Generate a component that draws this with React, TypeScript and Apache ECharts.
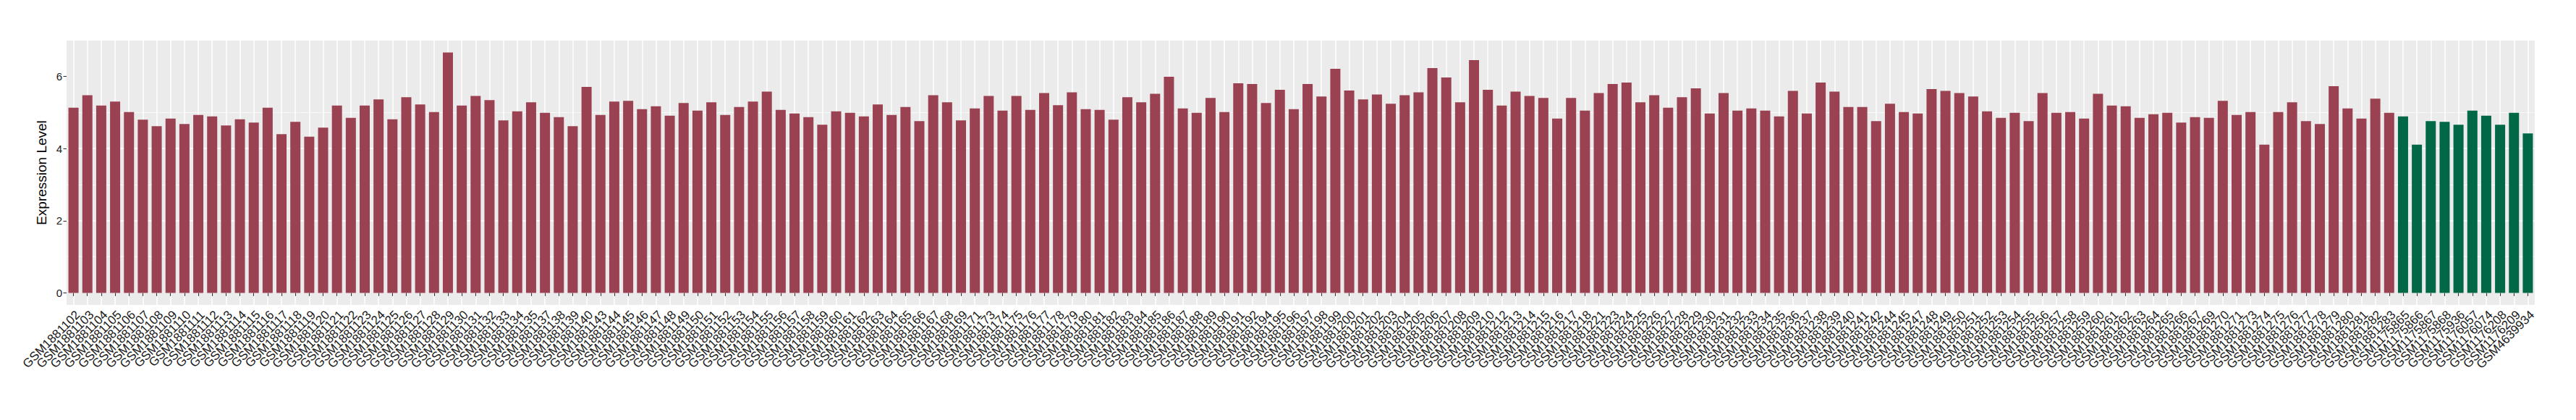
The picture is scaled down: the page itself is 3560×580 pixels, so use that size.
import React, { useEffect, useRef } from "react";
import * as echarts from "echarts";

const redSamples = [
  "GSM1881102","GSM1881103","GSM1881104","GSM1881105","GSM1881106","GSM1881107","GSM1881108","GSM1881109","GSM1881110","GSM1881111",
  "GSM1881112","GSM1881113","GSM1881114","GSM1881115","GSM1881116","GSM1881117","GSM1881118","GSM1881119","GSM1881120","GSM1881121",
  "GSM1881122","GSM1881123","GSM1881124","GSM1881125","GSM1881126","GSM1881127","GSM1881128","GSM1881129","GSM1881130","GSM1881131",
  "GSM1881132","GSM1881133","GSM1881134","GSM1881135","GSM1881137","GSM1881138","GSM1881139","GSM1881140","GSM1881143","GSM1881144",
  "GSM1881145","GSM1881146","GSM1881147","GSM1881148","GSM1881149","GSM1881150","GSM1881151","GSM1881152","GSM1881153","GSM1881154",
  "GSM1881155","GSM1881156","GSM1881157","GSM1881158","GSM1881159","GSM1881160","GSM1881161","GSM1881162","GSM1881163","GSM1881164",
  "GSM1881165","GSM1881166","GSM1881167","GSM1881168","GSM1881169","GSM1881171","GSM1881173","GSM1881174","GSM1881175","GSM1881176",
  "GSM1881177","GSM1881178","GSM1881179","GSM1881180","GSM1881181","GSM1881182","GSM1881183","GSM1881184","GSM1881185","GSM1881186",
  "GSM1881187","GSM1881188","GSM1881189","GSM1881190","GSM1881191","GSM1881192","GSM1881194","GSM1881195","GSM1881196","GSM1881197",
  "GSM1881198","GSM1881199","GSM1881200","GSM1881201","GSM1881202","GSM1881203","GSM1881204","GSM1881205","GSM1881206","GSM1881207",
  "GSM1881208","GSM1881209","GSM1881210","GSM1881212","GSM1881213","GSM1881214","GSM1881215","GSM1881216","GSM1881217","GSM1881218",
  "GSM1881221","GSM1881223","GSM1881224","GSM1881225","GSM1881226","GSM1881227","GSM1881228","GSM1881229","GSM1881230","GSM1881231",
  "GSM1881232","GSM1881233","GSM1881234","GSM1881235","GSM1881236","GSM1881237","GSM1881238","GSM1881239","GSM1881240","GSM1881241",
  "GSM1881242","GSM1881244","GSM1881245","GSM1881247","GSM1881248","GSM1881249","GSM1881250","GSM1881251","GSM1881252","GSM1881253",
  "GSM1881254","GSM1881255","GSM1881256","GSM1881257","GSM1881258","GSM1881259","GSM1881260","GSM1881261","GSM1881262","GSM1881263",
  "GSM1881264","GSM1881265","GSM1881266","GSM1881267","GSM1881269","GSM1881270","GSM1881271","GSM1881273","GSM1881274","GSM1881275",
  "GSM1881276","GSM1881277","GSM1881278","GSM1881279","GSM1881280","GSM1881281","GSM1881282","GSM1881283",
];

const redValues = [
  5.13, 5.48, 5.19, 5.30, 5.01, 4.80, 4.62, 4.83, 4.68, 4.93,
  4.89, 4.64, 4.81, 4.72, 5.13, 4.40, 4.74, 4.33, 4.58, 5.19,
  4.85, 5.19, 5.36, 4.81, 5.42, 5.22, 5.01, 6.66, 5.19, 5.46,
  5.34, 4.78, 5.03, 5.28, 4.99, 4.87, 4.62, 5.71, 4.93, 5.30,
  5.32, 5.09, 5.17, 4.91, 5.26, 5.05, 5.28, 4.93, 5.15, 5.30,
  5.58, 5.07, 4.97, 4.87, 4.66, 5.03, 4.99, 4.89, 5.22, 4.93,
  5.15, 4.76, 5.48, 5.28, 4.78, 5.11, 5.46, 5.05, 5.46, 5.07,
  5.54, 5.20, 5.56, 5.09, 5.07, 4.80, 5.42, 5.28, 5.52, 5.99,
  5.11, 4.99, 5.40, 5.01, 5.81, 5.79, 5.26, 5.63, 5.09, 5.79,
  5.44, 6.21, 5.61, 5.36, 5.50, 5.24, 5.48, 5.56, 6.23, 5.97,
  5.28, 6.45, 5.63, 5.19, 5.58, 5.46, 5.40, 4.83, 5.40, 5.05,
  5.54, 5.79, 5.83, 5.28, 5.48, 5.13, 5.42, 5.67, 4.97, 5.54,
  5.05, 5.11, 5.05, 4.89, 5.60, 4.97, 5.83, 5.58, 5.15, 5.15,
  4.76, 5.24, 5.01, 4.97, 5.65, 5.60, 5.54, 5.44, 5.03, 4.85,
  4.99, 4.76, 5.54, 4.99, 5.01, 4.83, 5.52, 5.19, 5.17, 4.85,
  4.95, 4.99, 4.72, 4.87, 4.85, 5.32, 4.93, 5.01, 4.11, 5.01,
  5.28, 4.76, 4.68, 5.73, 5.11, 4.83, 5.38, 4.99,
];

const greenSamples = [
  "GSM1175865","GSM1175866","GSM1175867","GSM1175868","GSM1175936",
  "GSM1176057","GSM1176074","GSM1176208","GSM1176209","GSM4639934",
];

const greenValues = [4.89, 4.11, 4.76, 4.74, 4.66, 5.05, 4.91, 4.66, 4.99, 4.42];

const yTicks = [0, 2, 4, 6];
const yAxisTitle = "Expression Level";

const RED = "#9B4252";
const GREEN = "#006847";
const FONT = "'Liberation Sans', Arial, Helvetica, sans-serif";

export default function App() {
  const ref = useRef<HTMLDivElement>(null);

  useEffect(() => {
    document.body.style.margin = "0";
    const chart = echarts.init(ref.current as HTMLDivElement, null, { renderer: "svg" });
    const categories = [...redSamples, ...greenSamples];
    const all = [...redValues, ...greenValues];
    const top = Math.max(...all);
    const ymax = top * 1.05;
    const ymin = -top * 0.05;

    const option: any = {
      animation: false,
      backgroundColor: "#FFFFFF",
      textStyle: { fontFamily: FONT },
      grid: {
        left: 92,
        right: 57,
        top: 56,
        height: 365,
        show: true,
        backgroundColor: "#EBEBEB",
        borderWidth: 0,
        containLabel: false,
        outerBoundsMode: "none",
      },
      xAxis: {
        type: "category",
        data: categories,
        boundaryGap: true,
        axisLine: { show: false },
        axisTick: {
          show: true,
          alignWithLabel: true,
          interval: 0,
          length: 4.5,
          lineStyle: { color: "#333333", width: 1.1 },
        },
        axisLabel: {
          interval: 0,
          rotate: 45,
          fontSize: 17,
          fontFamily: FONT,
          color: "#1A1A1A",
          margin: 5,
          align: "right",
          verticalAlign: "top",
        },
        splitLine: {
          show: true,
          interval: 0,
          alignWithLabel: true,
          lineStyle: { color: "#FFFFFF", width: 1.5 },
        },
      },
      yAxis: {
        type: "value",
        min: ymin,
        max: ymax,
        minInterval: 2,
        maxInterval: 2,
        name: yAxisTitle,
        nameLocation: "middle",
        nameGap: 18,
        nameTextStyle: { fontSize: 19, color: "#000000", fontFamily: FONT },
        axisLine: { show: false },
        axisTick: {
          show: true,
          length: 4.5,
          customValues: yTicks,
          lineStyle: { color: "#333333", width: 1.1 },
        },
        axisLabel: {
          customValues: yTicks,
          fontSize: 15,
          fontFamily: FONT,
          color: "#1A1A1A",
          margin: 6,
          formatter: (v: number) => (yTicks.indexOf(v) >= 0 ? String(v) : ""),
        },
        splitLine: {
          show: true,
          showMinLine: false,
          showMaxLine: false,
          lineStyle: { color: "#FFFFFF", width: 1.5 },
        },
        minorTick: { show: false, splitNumber: 2 },
        minorSplitLine: { show: true, lineStyle: { color: "#FFFFFF", width: 0.7 } },
      },
      series: [
        {
          type: "bar",
          data: [...redValues, ...greenValues.map(() => null)],
          barGap: "-100%",
          barCategoryGap: "27%",
          itemStyle: { color: RED },
        },
        {
          type: "bar",
          data: [...redValues.map(() => null), ...greenValues],
          barGap: "-100%",
          barCategoryGap: "27%",
          itemStyle: { color: GREEN },
        },
      ],
    };

    chart.setOption(option);
    return () => chart.dispose();
  }, []);

  return <div ref={ref} style={{ width: 3560, height: 580 }} />;
}
